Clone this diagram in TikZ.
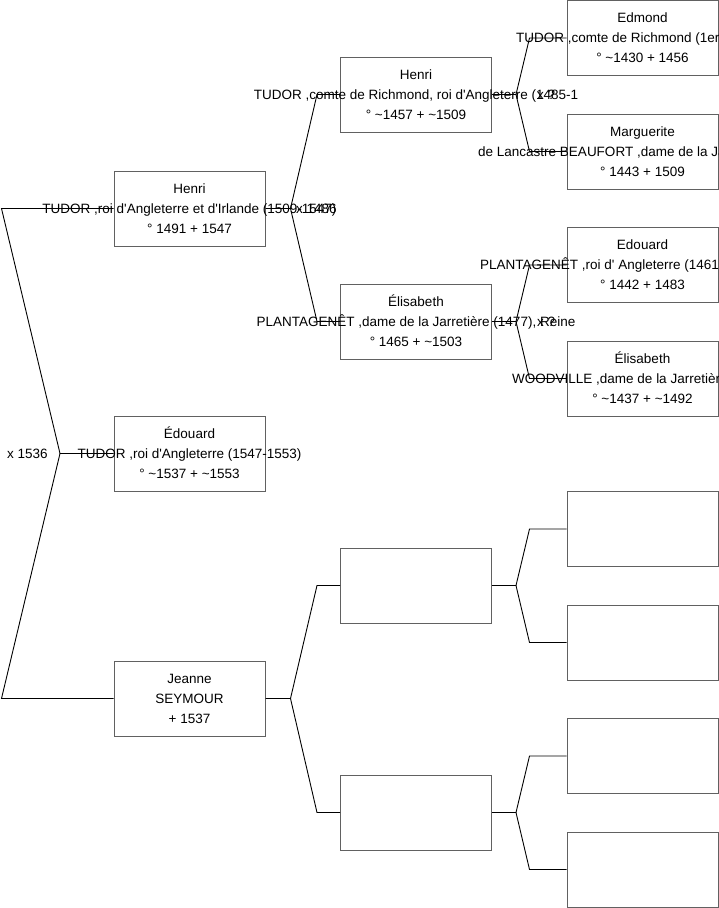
\documentclass[tikz,border=0pt]{standalone}
\usepackage{fontspec}
\setmainfont{Liberation Sans}
\usetikzlibrary{calc}
\newcommand\myap{\textquotesingle}
\newcommand\mytilde{\textasciitilde}
\tikzset{
  box/.style={draw=black!62, fill=white, line width=1pt, minimum width=151pt, minimum height=75pt, inner sep=0pt},
  txt/.style={font=\fontsize{13.5}{16}\selectfont, inner sep=0pt, anchor=base},
  txtw/.style={txt, anchor=base west},
  link/.style={draw=black, line width=0.9pt},
}
\newcommand\perslines[4]{%
  \node[txt] (#1-a) at ([yshift=15.5pt]#1.center) {#2};
  \ifx\relax#3\relax\else\node[txt] (#1-b) at ([yshift=-4.5pt]#1.center) {#3};\fi
  \node[txt] (#1-c) at ([yshift=-24.5pt]#1.center) {#4};
}
\begin{document}
\begin{tikzpicture}[x=1pt,y=-1pt]
\useasboundingbox (0,0) rectangle (719,908);
\clip (0,0) rectangle (719,908);
\fill[white] (0,0) rectangle (719,908);
% generation 1
\node[box] (h1)  at (189.5,208.5) {};
\node[box] (ed1) at (189.5,453.5) {};
\node[box] (je1) at (189.5,698.5) {};
% generation 2
\node[box] (h2)  at (416,94.5) {};
\node[box] (el2) at (416,321.5) {};
\node[box] (e2a) at (416,585.5) {};
\node[box] (e2b) at (416,812.5) {};
% generation 3
\node[box] (edm) at (642.5,38) {};
\node[box] (mar) at (642.5,151.5) {};
\node[box] (edo) at (642.5,265) {};
\node[box] (eli) at (642.5,378.5) {};
\node[box] (e3a) at (642.5,529) {};
\node[box] (e3b) at (642.5,642.5) {};
\node[box] (e3c) at (642.5,756) {};
\node[box] (e3d) at (642.5,869.5) {};
% connectors
\coordinate (jL) at (60,453.5);
\draw[link] (h1.west) -- ([xshift=-112pt]h1.west) -- (jL) -- (ed1.west);
\draw[link] (jL) -- ([xshift=-112pt]je1.west) -- (je1.west);
\coordinate (jA) at ([xshift=25pt]h1.east);
\draw[link] (h1.east) -- (jA) -- ([xshift=-23pt]h2.west) -- (h2.west);
\draw[link] (jA) -- ([xshift=-23pt]el2.west) -- (el2.west);
\coordinate (jB) at ([xshift=25pt]je1.east);
\draw[link] (je1.east) -- (jB) -- ([xshift=-23pt]e2a.west) -- (e2a.west);
\draw[link] (jB) -- ([xshift=-23pt]e2b.west) -- (e2b.west);
\coordinate (jC) at ([xshift=24pt]h2.east);
\draw[link] (h2.east) -- (jC) -- ([xshift=-37pt]edm.west) -- (edm.west);
\draw[link] (jC) -- ([xshift=-37pt]mar.west) -- (mar.west);
\coordinate (jD) at ([xshift=24pt]el2.east);
\draw[link] (el2.east) -- (jD) -- ([xshift=-37pt]edo.west) -- (edo.west);
\draw[link] (jD) -- ([xshift=-37pt]eli.west) -- (eli.west);
\coordinate (jE) at ([xshift=24pt]e2a.east);
\draw[link] (e2a.east) -- (jE) -- ([xshift=-37pt]e3a.west) -- (e3a.west);
\draw[link] (jE) -- ([xshift=-37pt]e3b.west) -- (e3b.west);
\coordinate (jF) at ([xshift=24pt]e2b.east);
\draw[link] (e2b.east) -- (jF) -- ([xshift=-37pt]e3c.west) -- (e3c.west);
\draw[link] (jF) -- ([xshift=-37pt]e3d.west) -- (e3d.west);
% texts
\perslines{h1}{Henri}{TUDOR ,roi d\myap Angleterre et d\myap Irlande (1509-1547)}{° 1491 + 1547}
\perslines{ed1}{Édouard}{TUDOR ,roi d\myap Angleterre (1547-1553)}{° \mytilde1537 + \mytilde1553}
\perslines{je1}{Jeanne}{SEYMOUR}{+ 1537}
\perslines{h2}{Henri}{TUDOR ,comte de Richmond, roi d\myap Angleterre (1485-1}{° \mytilde1457 + \mytilde1509}
\perslines{el2}{Élisabeth}{PLANTAGENÊT ,dame de la Jarretière (1477), Reine}{° 1465 + \mytilde1503}
\perslines{edm}{Edmond}{}{° \mytilde1430 + 1456}
\node[txtw] (edm-b) at (516,42.5) {TUDOR ,comte de Richmond (1er comte)};
\perslines{mar}{Marguerite}{}{° 1443 + 1509}
\node[txtw] (mar-b) at (478,156) {de Lancastre BEAUFORT ,dame de la Jarretière};
\perslines{edo}{Edouard}{}{° 1442 + 1483}
\node[txtw] (edo-b) at (480,269.5) {PLANTAGENÊT ,roi d\myap\ Angleterre (1461-1483)};
\perslines{eli}{Élisabeth}{}{° \mytilde1437 + \mytilde1492}
\node[txtw] (eli-b) at (512,383) {WOODVILLE ,dame de la Jarretière};
% marriage labels
\node[txtw] (m1) at (7,458) {x 1536};
\node[txtw] (m2) at (296,213) {x 1486};
\node[txtw] (m3) at (537,99) {x ?};
\node[txtw] (m4) at (537,326) {x ?};
\end{tikzpicture}
\end{document}
